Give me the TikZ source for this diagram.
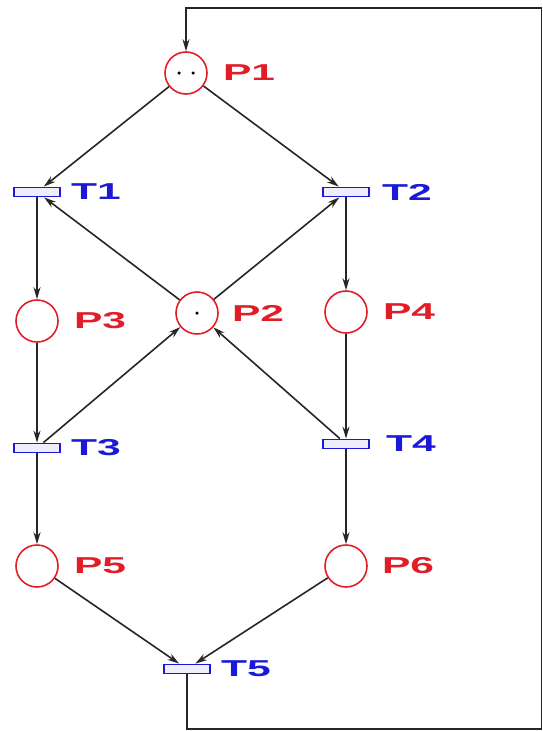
\documentclass[tikz,border=0pt]{standalone}
\usepackage{fontspec}
\newfontfamily\netfont{Liberation Sans}[FakeStretch=1.85]
\usepackage{tikz}
\usetikzlibrary{arrows.meta, positioning}

\definecolor{placered}{RGB}{225,30,40}
\definecolor{transblue}{RGB}{25,25,215}

\tikzset{
  place/.style={circle, draw=placered, line width=1.6pt, minimum size=42pt, inner sep=0pt},
  transition/.style={rectangle, draw=transblue, fill=transblue!8, line width=1.8pt,
    minimum width=46pt, minimum height=9pt, inner sep=0pt},
  netlabel/.style={inner sep=0pt, font=\netfont\bfseries\fontsize{23}{23}\selectfont},
  plabel/.style={netlabel, text=placered},
  tlabel/.style={netlabel, text=transblue},
  token/.style={circle, fill=black, inner sep=0pt, minimum size=3.5pt},
  arc/.style={-{Stealth[length=12pt,width=7pt]}, line width=1.6pt, black!85}
}

\begin{document}
\begin{tikzpicture}[x=1pt, y=-1pt]
        \useasboundingbox (0,0) rectangle (543,731);

        % Places
        \node[place] (p1) at (186,73) {};
        \node[place] (p2) at (197,313) {};
        \node[place] (p3) at (37,321) {};
        \node[place] (p4) at (346,312) {};
        \node[place] (p5) at (37,566) {};
        \node[place] (p6) at (346,566) {};

        % Tokens
        \node[token] (k1) at (179,73) {};
        \node[token] (k2) at (193,73) {};
        \node[token] (k3) at (197,313) {};

        % Transitions
        \node[transition] (t1) at (37,192) {};
        \node[transition] (t2) at (346,192) {};
        \node[transition] (t3) at (37,448) {};
        \node[transition] (t4) at (346,444) {};
        \node[transition] (t5) at (187,669) {};

        % Labels
        \node[plabel, right=15pt of p1] (lp1) {P1};
        \node[plabel, right=13pt of p2] (lp2) {P2};
        \node[plabel, right=15pt of p3] (lp3) {P3};
        \node[plabel, right=15pt of p4] (lp4) {P4};
        \node[plabel, right=15pt of p5] (lp5) {P5};
        \node[plabel, right=14pt of p6] (lp6) {P6};
        \node[tlabel, right=10pt of t1] (lt1) {T1};
        \node[tlabel, right=12pt of t2] (lt2) {T2};
        \node[tlabel, right=10pt of t3] (lt3) {T3};
        \node[tlabel, right=16pt of t4] (lt4) {T4};
        \node[tlabel, right=10pt of t5] (lt5) {T5};

        % Arcs
        \draw[arc] (p1) -- (t1);
        \draw[arc] (p1) -- (t2);
        \draw[arc] (p2) -- (t1);
        \draw[arc] (p2) -- (t2);
        \draw[arc] (t1) -- (p3);
        \draw[arc] (t2) -- (p4);
        \draw[arc] (p3) -- (t3);
        \draw[arc] (p4) -- (t4);
        \draw[arc] (t3) -- (p2);
        \draw[arc] (t4) -- (p2);
        \draw[arc] (t3) -- (p5);
        \draw[arc] (t4) -- (p6);
        \draw[arc] (p5) -- (t5);
        \draw[arc] (p6) -- (t5);

        % Feedback from T5 back to P1
        \coordinate (c1) at (187,729);
        \coordinate (c2) at (541.5,729);
        \coordinate (c3) at (541.5,8);
        \coordinate (c4) at (186,8);
        \draw[arc] (t5) -- (c1) -- (c2) -- (c3) -- (c4) -- (p1);
\end{tikzpicture}
\end{document}
